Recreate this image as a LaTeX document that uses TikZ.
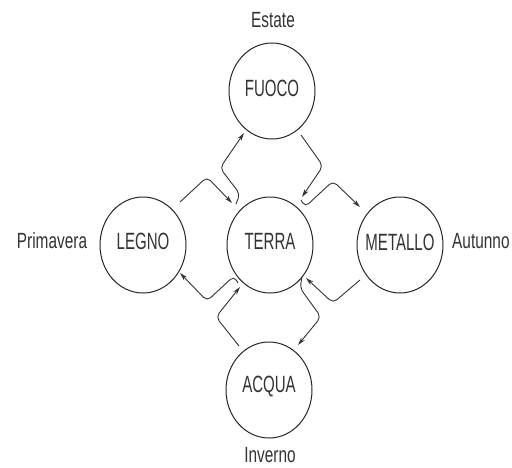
\documentclass[tikz,border=0pt]{standalone}
\usepackage{fontspec}
\newfontfamily\condA[FakeStretch=0.64]{Liberation Sans}
\newfontfamily\condB[FakeStretch=0.70]{Liberation Sans}
\usetikzlibrary{arrows.meta,shapes.geometric,calc}
\begin{document}
\begin{tikzpicture}[x=1pt,y=-1pt,
  elem/.style={ellipse,draw=black!85,line width=1pt,minimum width=86pt,minimum height=96pt,inner sep=0pt,font=\condA\fontsize{23.5}{23.5}\selectfont,text=black!80},
  lab/.style={font=\condA\fontsize{23.5}{23.5}\selectfont,text=black!80,inner sep=0pt},
  season/.style={font=\condB\fontsize{22}{22}\selectfont,text=black!80,inner sep=0pt},
  conn/.style={draw=black!80,line width=0.9pt,rounded corners=5pt,-{Stealth[length=8pt,width=4.5pt]}}]
\useasboundingbox (0,0) rectangle (512,467);
\fill[white] (0,0) rectangle (512,467);
\node[elem] (fuoco) at (272,91) {};
\node[elem] (legno) at (143,245) {};
\node[elem] (terra) at (270,245) {};
\node[elem] (metallo) at (400,245) {};
\node[elem] (acqua) at (269,390) {};
\node[lab] (tfuoco) at ($(fuoco)+(0,-3)$) {FUOCO};
\node[lab] (tlegno) at ($(legno)+(0,-4)$) {LEGNO};
\node[lab] (tterra) at ($(terra)+(0,-4)$) {TERRA};
\node[lab] (tmetallo) at ($(metallo)+(0,-3)$) {METALLO};
\node[lab] (tacqua) at ($(acqua)+(0,-3)$) {ACQUA};
\node[season] (estate) at (273,20) {Estate};
\node[season] (inverno) at (270,455) {Inverno};
\node[season] (primavera) at (52,241) {Primavera};
\node[season,anchor=west] (autunno) at (452,241) {Autunno};
% terra -> fuoco
\draw[conn] ($(terra)+(-34,-41)$) -- ($(terra)+(-30,-51)$) -- ($(terra)+(-50,-77)$) -- ($(fuoco)+(-28,42)$);
% legno -> terra
\draw[conn] ($(legno)+(37,-43)$) -- ($(legno)+(64,-68)$) -- ($(terra)+(-38,-42)$);
% fuoco -> terra
\draw[conn] ($(fuoco)+(29,44)$) -- ($(terra)+(53,-79)$) -- ($(terra)+(32,-48)$);
% terra -> metallo
\draw[conn] ($(terra)+(31,-45)$) -- ($(terra)+(35,-38)$) -- ($(terra)+(63,-64)$) -- ($(metallo)+(-40,-38)$);
% metallo -> terra
\draw[conn] ($(metallo)+(-40,35)$) -- ($(terra)+(63,58)$) -- ($(terra)+(36,33)$);
% terra -> acqua
\draw[conn] ($(terra)+(32,32)$) -- ($(terra)+(30,43)$) -- ($(terra)+(51,72)$) -- ($(acqua)+(29,-45)$);
% acqua -> terra
\draw[conn] ($(acqua)+(-30,-44)$) -- ($(terra)+(-54,72)$) -- ($(terra)+(-30,42)$);
% terra -> legno
\draw[conn] ($(terra)+(-32,38)$) -- ($(terra)+(-36,31)$) -- ($(terra)+(-63,56)$) -- ($(legno)+(37,28)$);
\end{tikzpicture}
\end{document}
